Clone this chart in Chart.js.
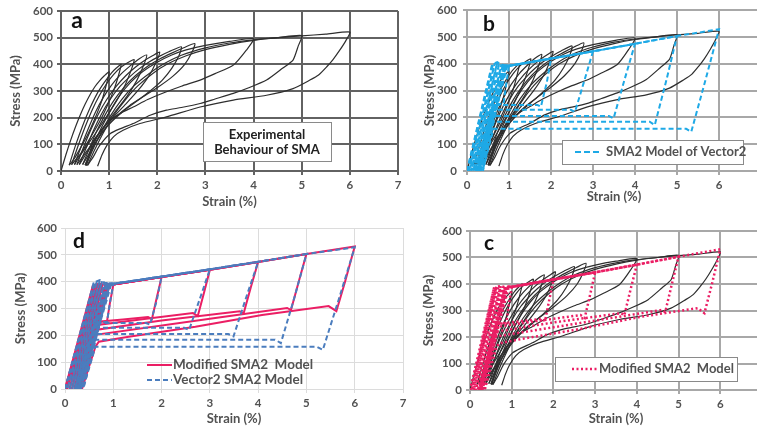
<!DOCTYPE html>
<html>
<head>
<meta charset="utf-8">
<script src="https://cdn.jsdelivr.net/npm/chart.js@4.4.1/dist/chart.umd.min.js"></script>
<style>
  html, body { margin: 0; padding: 0; background: #fff; }
  body { width: 757px; height: 427px; overflow: hidden; position: relative; }
  canvas { position: absolute; }
</style>
</head>
<body>
<canvas id="panelA" width="405" height="212" style="left:0px;top:0px"></canvas>
<canvas id="panelB" width="370" height="212" style="left:400px;top:0px"></canvas>
<canvas id="panelD" width="410" height="215" style="left:0px;top:212px"></canvas>
<canvas id="panelC" width="370" height="215" style="left:405px;top:212px"></canvas>
<script>
// ---- data: [strain %, stress MPa] ----
// experimental cycles (loading branch then unloading branch)
const exp1 = [[0,0],[0.1,60],[0.2,115],[0.3,165],[0.4,210],[0.5,250],[0.6,285],[0.7,315],[0.8,338],[0.9,357],[1.0,372],[0.95,330],[0.85,265],[0.7,195],[0.55,135],[0.4,85],[0.27,45],[0.17,22]];
const exp2 = [[0.17,22],[0.3,95],[0.45,170],[0.6,235],[0.75,290],[0.9,332],[1.05,368],[1.15,386],[1.25,400],[1.2,362],[1.1,305],[0.95,240],[0.8,185],[0.6,122],[0.42,68],[0.22,24]];
const exp3 = [[0.22,24],[0.35,92],[0.5,165],[0.65,230],[0.8,284],[0.95,328],[1.1,363],[1.25,390],[1.4,408],[1.52,418],[1.47,385],[1.33,322],[1.15,262],[0.95,205],[0.75,150],[0.55,98],[0.4,58],[0.28,24]];
const exp4 = [[0.28,24],[0.42,92],[0.57,160],[0.72,222],[0.88,276],[1.05,322],[1.25,364],[1.45,396],[1.62,420],[1.78,435],[1.72,398],[1.57,338],[1.37,280],[1.15,228],[0.95,180],[0.75,132],[0.55,78],[0.33,24]];
const exp5 = [[0.33,24],[0.47,90],[0.62,155],[0.78,215],[0.95,268],[1.15,318],[1.35,358],[1.55,390],[1.75,416],[1.9,432],[2.05,446],[1.98,410],[1.82,355],[1.6,302],[1.35,252],[1.1,205],[0.85,155],[0.62,92],[0.38,24]];
const exp6 = [[0.38,24],[0.52,85],[0.67,150],[0.83,210],[1.02,268],[1.22,316],[1.42,352],[1.62,383],[1.82,408],[2.02,428],[2.25,448],[2.5,466],[2.45,432],[2.3,385],[2.1,340],[1.85,300],[1.6,265],[1.3,225],[1.0,175],[0.75,115],[0.45,24]];
const exp7 = [[0.45,24],[0.58,80],[0.73,145],[0.9,205],[1.1,265],[1.3,312],[1.55,358],[1.8,393],[2.05,420],[2.3,442],[2.55,462],[2.78,478],[2.72,445],[2.57,400],[2.32,355],[2.02,315],[1.72,280],[1.42,245],[1.12,200],[0.87,150],[0.67,90],[0.5,22]];
const exp8 = [[0.5,22],[0.65,88],[0.8,148],[1.0,218],[1.2,278],[1.45,333],[1.7,373],[2.0,408],[2.3,435],[2.6,454],[3.0,471],[3.5,486],[4.0,496],[3.85,453],[3.58,397],[3.2,365],[2.89,341],[2.5,318],[2.19,297],[1.8,268],[1.5,240],[1.25,218],[1.02,190],[0.85,155],[0.67,112],[0.52,20]];
const exp9 = [[0.52,20],[0.66,80],[0.82,140],[1.02,205],[1.26,268],[1.52,320],[1.82,364],[2.12,400],[2.5,434],[3.0,462],[3.5,480],[4.0,492],[4.5,500],[5.0,508],[4.93,470],[4.82,416],[4.6,385],[4.27,341],[3.9,312],[3.58,291],[3.2,270],[2.89,253],[2.5,238],[2.19,228],[1.85,209],[1.5,178],[1.25,160],[1.02,140],[0.8,95],[0.67,53],[0.55,21]];
const exp10 = [[0.55,21],[0.7,80],[0.9,150],[1.1,210],[1.35,270],[1.6,320],[1.9,365],[2.2,400],[2.6,432],[3.0,455],[3.5,475],[4.0,490],[4.5,500],[5.0,507],[5.5,513],[6.0,521],[5.92,490],[5.79,453],[5.65,418],[5.52,391],[5.35,360],[5.17,341],[4.82,309],[4.27,284],[3.58,266],[2.89,240],[2.19,203],[1.64,178],[1.29,153],[1.1,130],[0.95,95],[0.85,60],[0.76,18]];

// Vector2 SMA2 model cycles
const vecBand = [[0,0],[0.6,400],[0.05,0],[0.66,402],[0.1,0],[0.72,404],[0.15,0],[0.77,402],[0.2,0],[0.82,398],[0.27,0],[0.88,396],[0.33,0],[0.93,394],[0.38,0]];
const vec1 = [[0,0],[0.62,398],[0.72,406],[0.82,396],[1.0,392],[0.93,320],[0.87,250],[0.8,250],[0.63,250],[0.22,0]];
const vec2 = [[0.22,0],[0.85,393],[1.0,392],[1.5,405],[2.0,419],[1.9,330],[1.76,240],[1.68,246],[1.2,246],[0.63,246],[0.23,0]];
const vec3 = [[0.23,0],[0.87,395],[1.0,392],[2.0,419],[3.0,446],[2.8,340],[2.57,220],[2.47,228],[0.63,228],[0.26,0]];
const vec4 = [[0.26,0],[0.9,394],[1.0,392],[2.0,419],[3.0,446],[4.0,474],[3.75,340],[3.49,196],[3.38,205],[0.63,205],[0.29,0]];
const vec5 = [[0.29,0],[0.93,393],[1.0,392],[2.0,419],[3.0,446],[4.0,474],[5.0,503],[4.75,340],[4.47,171],[4.35,184],[0.63,184],[0.33,0]];
const vec6 = [[0.33,0],[0.96,392],[1.0,392],[2.0,419],[3.0,446],[4.0,474],[5.0,503],[6.0,528],[5.68,340],[5.34,146],[5.22,157],[0.63,157],[0.37,0]];

// Modified SMA2 model cycles
const modBand = [[0,0],[0.58,388],[0.04,0],[0.63,390],[0.09,0],[0.68,392],[0.14,0],[0.73,392],[0.19,0],[0.78,390],[0.25,0],[0.84,389],[0.3,0],[0.88,388],[0.35,0]];
const mod1 = [[0,0],[0.64,390],[0.72,392],[0.85,388],[1.0,388],[0.93,320],[0.87,252],[0.63,250],[0.21,0]];
const mod2 = [[0.21,0],[0.84,388],[1.0,389],[1.5,403],[2.0,417],[1.9,340],[1.8,260],[1.72,268],[1.2,259],[0.63,250],[0.22,0]];
const mod3 = [[0.22,0],[0.86,390],[1.0,389],[2.0,417],[3.0,444],[2.88,360],[2.75,272],[2.65,283],[1.6,260],[0.63,238],[0.24,0]];
const mod4 = [[0.24,0],[0.88,390],[1.0,389],[2.0,417],[3.0,444],[4.0,473],[3.85,380],[3.7,282],[3.62,290],[2.0,255],[0.63,220],[0.26,0]];
const mod5 = [[0.26,0],[0.9,390],[1.0,389],[2.0,417],[3.0,444],[4.0,473],[5.0,503],[4.84,400],[4.68,294],[4.6,302],[3.0,262],[0.63,202],[0.29,0]];
const mod6 = [[0.29,0],[0.93,390],[1.0,389],[2.0,417],[3.0,444],[4.0,473],[5.0,503],[6.0,531],[5.8,400],[5.62,290],[5.46,309],[4.08,276],[2.7,232],[1.32,195],[0.7,176],[0.63,158],[0.35,0]];

const expCycles = [exp1, exp2, exp3, exp4, exp5, exp6, exp7, exp8, exp9, exp10];
const vecCycles = [vecBand, vec1, vec2, vec3, vec4, vec5, vec6];
const modCycles = [modBand, mod1, mod2, mod3, mod4, mod5, mod6];

const legendA = ['Experimental', 'Behaviour of SMA'];
const legendB = 'SMA2 Model of Vector2';
const legendC = 'Modified SMA2  Model';
const legendD = ['Modified SMA2  Model', 'Vector2 SMA2 Model'];

const FONT = "Lato, 'Open Sans', sans-serif";
Chart.defaults.font.family = FONT;

function line(points, color, width, dash, tension, order) {
  return {
    data: points.map(p => ({x: p[0], y: p[1]})),
    borderColor: color,
    borderWidth: width,
    borderDash: dash,
    showLine: true,
    pointRadius: 0,
    tension: tension,
    fill: false,
    order: order
  };
}

const EXP = '#2e2e2e';
const CYAN = '#1ea9e6';
const BLUE = '#4b7dbe';
const RED = '#eb1e64';
const TXT = '#525252';

//letters + legend boxes drawn on top
const panelDecor = {
  id: 'panelDecor',
  afterDraw(chart, args, o) {
    const ctx = chart.ctx;
    ctx.save();
    ctx.font = 'bold ' + o.letterSize + 'px ' + FONT;
    ctx.fillStyle = '#111';
    ctx.textAlign = 'center';
    ctx.textBaseline = 'middle';
    ctx.fillText(o.letter, o.letterX, o.letterY);
    if (o.box) {
      const b = o.box;
      ctx.fillStyle = '#fff';
      ctx.fillRect(b[0], b[1], b[2], b[3]);
      ctx.strokeStyle = '#8a8a8a';
      ctx.lineWidth = 1;
      ctx.strokeRect(b[0] + 0.5, b[1] + 0.5, b[2], b[3]);
    }
    (o.entries || []).forEach(e => {
      if (e.sample) {
        const s = e.sample;
        ctx.beginPath();
        ctx.strokeStyle = s.color;
        ctx.lineWidth = s.width;
        ctx.setLineDash(s.dash);
        ctx.moveTo(s.x0, e.y);
        ctx.lineTo(s.x1, e.y);
        ctx.stroke();
        ctx.setLineDash([]);
      }
      ctx.font = 'bold ' + e.size + 'px ' + FONT;
      ctx.fillStyle = e.color;
      ctx.textAlign = e.align;
      ctx.fillText(e.text, e.x, e.y);
    });
    ctx.restore();
  }
};

function makePanel(id, p) {
  const tickFont = {size: 11.5, weight: 'bold'};
  const titleFont = {size: 13, weight: 'bold'};
  return new Chart(document.getElementById(id), {
    type: 'scatter',
    data: {datasets: p.datasets},
    options: {
      responsive: false,
      animation: false,
      events: [],
      layout: {autoPadding: false, padding: {left: 0, top: p.padTop, right: p.padRight, bottom: 0}},
      plugins: {
        legend: {display: false},
        tooltip: {enabled: false},
        panelDecor: p.decor
      },
      scales: {
        x: {
          type: 'linear', min: 0, max: 7,
          ticks: {stepSize: 1, font: tickFont, color: TXT, padding: 3, maxRotation: 0},
          grid: {color: p.gridColor, lineWidth: p.gridWidth, tickLength: 4, tickColor: p.gridColor},
          border: {color: p.gridColor, width: p.gridWidth},
          title: {display: true, text: 'Strain (%)', font: titleFont, color: TXT, padding: {top: 0, bottom: p.xTitlePad}},
          afterFit: s => { s.height = p.xHeight; s.paddingLeft = 0; s.paddingRight = 0; }
        },
        y: {
          type: 'linear', min: 0, max: 600,
          ticks: {stepSize: 100, font: tickFont, color: TXT, padding: p.yTickPad},
          grid: {color: p.gridColor, lineWidth: p.gridWidth, tickLength: 4, tickColor: p.gridColor},
          border: {color: p.gridColor, width: p.gridWidth},
          title: {display: true, text: 'Stress (MPa)', font: titleFont, color: TXT, padding: {top: p.yTitlePad, bottom: 0}},
          afterFit: s => { s.width = p.yWidth; s.paddingTop = 0; s.paddingBottom = 0; }
        }
      }
    },
    plugins: [panelDecor]
  });
}

function expSets(order) {
  return expCycles.map(c => line(c, EXP, 1.2, [], 0.2, order));
}

// panel a
makePanel('panelA', {
  datasets: expSets(1),
  padTop: 11, padRight: 7, xHeight: 41, yWidth: 61,
  gridColor: '#626262', gridWidth: 2, xTitlePad: 2, yTitlePad: 8, yTickPad: 4,
  decor: {
    letter: 'a', letterSize: 23, letterX: 77, letterY: 21,
    box: [203, 122, 128, 39],
    entries: [
      {text: legendA[0], x: 267, y: 135, size: 13, color: '#222', align: 'center'},
      {text: legendA[1], x: 267, y: 150, size: 13, color: '#222', align: 'center'}
    ]
  }
});

// panel b
makePanel('panelB', {
  datasets: expSets(2).concat(vecCycles.map(c => line(c, CYAN, 2, [5, 3], 0, 1))),
  padTop: 10, padRight: 9, xHeight: 41, yWidth: 67,
  gridColor: '#a8a8a8', gridWidth: 2, xTitlePad: 7, yTitlePad: 22, yTickPad: 6,
  decor: {
    letter: 'b', letterSize: 21, letterX: 89, letterY: 24,
    box: [162, 140, 181, 24],
    entries: [
      {text: legendB, x: 206, y: 152, size: 13, color: TXT, align: 'left',
       sample: {x0: 175, x1: 202, color: CYAN, width: 2, dash: [6, 3]}}
    ]
  }
});

// panel d
makePanel('panelD', {
  datasets: modCycles.map(c => line(c, RED, 2, [], 0, 2)).concat(vecCycles.map(c => line(c, BLUE, 2, [5, 3], 0, 1))),
  padTop: 16, padRight: 7, xHeight: 38, yWidth: 65,
  gridColor: '#dcdcdc', gridWidth: 1, xTitlePad: 0, yTitlePad: 13, yTickPad: 4,
  decor: {
    letter: 'd', letterSize: 21, letterX: 79, letterY: 29,
    entries: [
      {text: legendD[0], x: 173, y: 153, size: 13.5, color: TXT, align: 'left',
       sample: {x0: 147, x1: 172, color: RED, width: 2, dash: []}},
      {text: legendD[1], x: 173, y: 168, size: 13.5, color: TXT, align: 'left',
       sample: {x0: 147, x1: 172, color: BLUE, width: 2, dash: [5, 3]}}
    ]
  }
});

// panel c
makePanel('panelC', {
  datasets: expSets(2).concat(modCycles.map(c => line(c, RED, 2.5, [2, 2.5], 0, 1))),
  padTop: 19, padRight: 13, xHeight: 37, yWidth: 65,
  gridColor: '#a8a8a8', gridWidth: 2, xTitlePad: 0, yTitlePad: 16, yTickPad: 4,
  decor: {
    letter: 'c', letterSize: 21, letterX: 84, letterY: 31,
    box: [150, 145, 182, 24],
    entries: [
      {text: legendC, x: 194, y: 157, size: 13, color: TXT, align: 'left',
       sample: {x0: 167, x1: 193, color: RED, width: 2.5, dash: [2, 2.5]}}
    ]
  }
});
</script>
</body>
</html>
